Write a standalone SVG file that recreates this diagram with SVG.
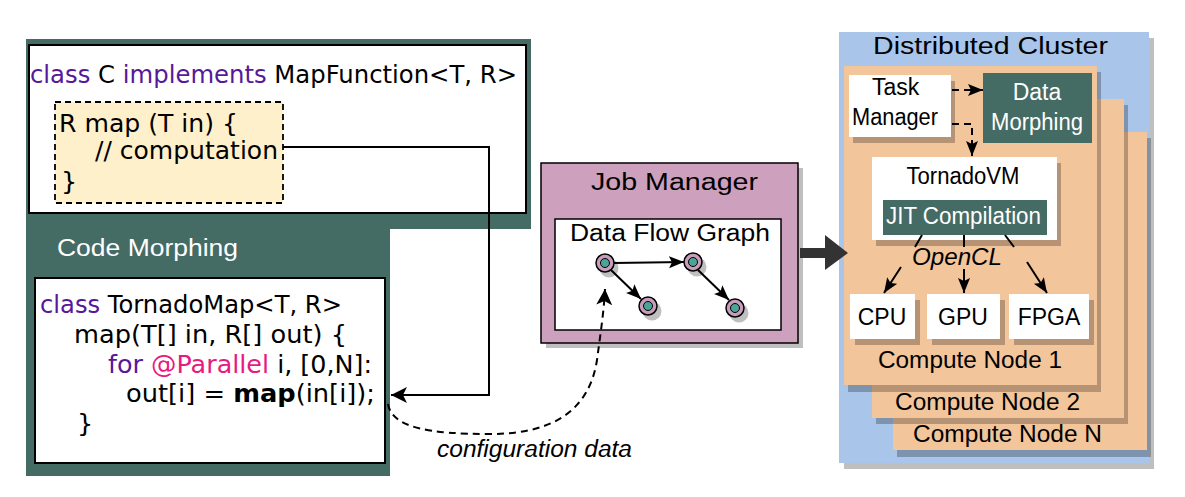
<svg xmlns="http://www.w3.org/2000/svg" width="1185" height="497" viewBox="0 0 1185 497">
<style>
.code{font-family:"DejaVu Sans","Liberation Sans",sans-serif;font-size:25.5px;fill:#000}
.kw{fill:#56199A}
.ann{fill:#E8197F}
.lbl{font-family:"Liberation Sans",Arial,sans-serif;font-size:23px;fill:#000}
.wlbl{font-family:"Liberation Sans",Arial,sans-serif;font-size:23px;fill:#fff}
.it{font-style:italic}
.shadow{fill:#000;opacity:0.25}
.teal{fill:#456B65}
.orange{fill:#F2C59B}
.wbox{fill:#fff}
.conn{fill:none;stroke:#000;stroke-width:2}
.dash{fill:none;stroke:#000;stroke-width:2;stroke-dasharray:7,5}
.gnode{fill:#C89CBA;stroke:#000;stroke-width:1.5}
.ginner{fill:#4BA595;stroke:#000;stroke-width:1}
</style>
<defs>
<marker id="ah" markerUnits="userSpaceOnUse" markerWidth="18" markerHeight="16" refX="16" refY="8" orient="auto">
<path d="M0,0 L16,8 L0,16 L4,8 Z" fill="#000"/>
</marker>
<marker id="ahs" markerUnits="userSpaceOnUse" markerWidth="16" markerHeight="14" refX="15" refY="7" orient="auto">
<path d="M0,1 L15,7 L0,13 L3,7 Z" fill="#000"/>
</marker>
</defs>
<rect width="1185" height="497" fill="#fff"/>

<!-- Left dark panel -->
<g id="code-morphing">
<path class="teal" d="M26,39 H531 V229 H390 V476 H26 Z"/>
<text class="wlbl" x="57" y="256" font-size="25" textLength="181" lengthAdjust="spacingAndGlyphs">Code Morphing</text>
<rect x="35" y="278" width="350" height="185" fill="#fff" stroke="#000" stroke-width="2"/>
<text class="code" x="40" y="313" textLength="302" lengthAdjust="spacingAndGlyphs"><tspan class="kw">class</tspan> TornadoMap&lt;T, R&gt;</text>
<text class="code" x="74" y="343" textLength="273" lengthAdjust="spacingAndGlyphs">map(T[] in, R[] out) {</text>
<text class="code" x="108" y="373" textLength="264" lengthAdjust="spacingAndGlyphs"><tspan class="kw">for</tspan> <tspan class="ann">@Parallel</tspan> i, [0,N]:</text>
<text class="code" x="126" y="402" textLength="249" lengthAdjust="spacingAndGlyphs">out[i] = <tspan font-weight="bold">map</tspan>(in[i]);</text>
<text class="code" x="77" y="432">}</text>
</g>

<g id="map-function">
<rect x="29" y="45" width="497" height="168" fill="#fff" stroke="#000" stroke-width="2"/>
<text class="code" x="30" y="83" textLength="487" lengthAdjust="spacingAndGlyphs"><tspan class="kw">class</tspan> C <tspan class="kw">implements</tspan> MapFunction&lt;T, R&gt;</text>
<rect x="55" y="102" width="228" height="101" fill="#FFF0CC" stroke="#000" stroke-width="1.8" stroke-dasharray="6,4"/>
<text class="code" x="59" y="132" textLength="179" lengthAdjust="spacingAndGlyphs">R map (T in) {</text>
<text class="code" x="95" y="159" textLength="183" lengthAdjust="spacingAndGlyphs">// computation</text>
<text class="code" x="61" y="190">}</text>
</g>

<!-- Job Manager -->
<g id="job-manager">
<rect class="shadow" x="546" y="168" width="257" height="180"/>
<rect x="541" y="163" width="257" height="180" fill="#CDA0BD" stroke="#000" stroke-width="1.5"/>
<text class="lbl" x="591" y="190" font-size="26" textLength="167" lengthAdjust="spacingAndGlyphs">Job Manager</text>
<rect x="555" y="219" width="226" height="111" fill="#fff" stroke="#000" stroke-width="1.5"/>
<text class="lbl" x="570" y="241" font-size="25" textLength="200" lengthAdjust="spacingAndGlyphs">Data Flow Graph</text>
</g>

<g id="dfg-node-1"><circle class="shadow" cx="609" cy="268" r="9.5"/><circle class="gnode" cx="605" cy="263" r="9"/><circle class="ginner" cx="605" cy="263" r="4.5"/></g>
<g id="dfg-node-2"><circle class="shadow" cx="697" cy="267" r="9.5"/><circle class="gnode" cx="693" cy="262" r="9"/><circle class="ginner" cx="693" cy="262" r="4.5"/></g>
<g id="dfg-node-3"><circle class="shadow" cx="652" cy="311" r="9.5"/><circle class="gnode" cx="648" cy="306" r="9"/><circle class="ginner" cx="648" cy="306" r="4.5"/></g>
<g id="dfg-node-4"><circle class="shadow" cx="739" cy="313" r="9.5"/><circle class="gnode" cx="735" cy="308" r="9"/><circle class="ginner" cx="735" cy="308" r="4.5"/></g>

<!-- Distributed cluster -->
<g id="cluster">
<rect class="shadow" x="844" y="38" width="310" height="431"/>
<rect x="839" y="32" width="310" height="431" fill="#A9C5E9"/>
<text class="lbl" x="873" y="54" font-size="26" textLength="235" lengthAdjust="spacingAndGlyphs">Distributed Cluster</text>
</g>

<g id="compute-node-n">
<rect class="shadow" x="897" y="138" width="254" height="319"/>
<rect class="orange" x="893" y="132" width="254" height="318"/>
<text class="lbl" x="913" y="442" font-size="24" textLength="189" lengthAdjust="spacingAndGlyphs">Compute Node N</text>
</g>
<g id="compute-node-2">
<rect class="shadow" x="876" y="105" width="252" height="319"/>
<rect class="orange" x="872" y="99" width="252" height="319"/>
<text class="lbl" x="895" y="410" font-size="24" textLength="185" lengthAdjust="spacingAndGlyphs">Compute Node 2</text>
</g>
<g id="compute-node-1">
<rect class="shadow" x="848" y="72" width="253" height="320"/>
<rect class="orange" x="844" y="66" width="253" height="319"/>
<text class="lbl" x="878" y="368" font-size="24" textLength="184" lengthAdjust="spacingAndGlyphs">Compute Node 1</text>
</g>

<g id="task-manager">
<rect class="shadow" x="853" y="81" width="102" height="62"/>
<rect class="wbox" x="849" y="75" width="102" height="62"/>
<text class="lbl" x="872" y="95" font-size="22">Task</text>
<text class="lbl" x="852" y="125" font-size="22" textLength="86" lengthAdjust="spacingAndGlyphs">Manager</text>
</g>

<g id="data-morphing">
<rect class="teal" x="983" y="73" width="109" height="70"/>
<text class="wlbl" x="1037" y="100" text-anchor="middle">Data</text>
<text class="wlbl" x="1037" y="130" text-anchor="middle" textLength="92" lengthAdjust="spacingAndGlyphs">Morphing</text>
</g>

<g id="tornadovm">
<rect class="shadow" x="876" y="163" width="185" height="83"/>
<rect class="wbox" x="872" y="157" width="185" height="83"/>
<text class="lbl" x="963" y="184" font-size="22" text-anchor="middle" textLength="113" lengthAdjust="spacingAndGlyphs">TornadoVM</text>
<rect class="teal" x="883" y="200" width="164" height="35"/>
<text class="wlbl" x="886" y="224" textLength="155" lengthAdjust="spacingAndGlyphs">JIT Compilation</text>
</g>

<text class="lbl it" x="912" y="265" font-size="24" textLength="90" lengthAdjust="spacingAndGlyphs">OpenCL</text>

<g id="cpu">
<rect class="shadow" x="855" y="300" width="65" height="45"/>
<rect class="wbox" x="850" y="294" width="65" height="45"/>
<text class="lbl" x="882" y="325" font-size="22" text-anchor="middle">CPU</text>
</g>
<g id="gpu">
<rect class="shadow" x="932" y="300" width="73" height="45"/>
<rect class="wbox" x="927" y="294" width="73" height="45"/>
<text class="lbl" x="963" y="325" font-size="22" text-anchor="middle">GPU</text>
</g>
<g id="fpga">
<rect class="shadow" x="1014" y="300" width="80" height="45"/>
<rect class="wbox" x="1009" y="294" width="80" height="45"/>
<text class="lbl" x="1049" y="325" font-size="22" text-anchor="middle">FPGA</text>
</g>

<text class="lbl it" x="437" y="457" font-size="24" textLength="195" lengthAdjust="spacingAndGlyphs">configuration data</text>

<!-- Connectors -->
<g id="connectors">
<path class="conn" d="M283,147 H489 V395 H391" marker-end="url(#ah)"/>
<path class="dash" d="M388,404 C392,428 430,434 490,434 C560,434 590,405 597,360 C601,330 604,310 605,289" marker-end="url(#ah)"/>
<line class="conn" x1="614" y1="263" x2="684" y2="262" stroke-width="1.8" marker-end="url(#ahs)"/>
<line class="conn" x1="611" y1="270" x2="641" y2="299" stroke-width="1.8" marker-end="url(#ahs)"/>
<line class="conn" x1="698" y1="270" x2="729" y2="300" stroke-width="1.8" marker-end="url(#ahs)"/>
<polygon points="800,248 825,248 825,235 848,253 825,270 825,258 800,258" fill="#333"/>
<path class="dash" d="M952,90 H983" marker-end="url(#ahs)"/>
<path class="dash" d="M952,124 H972 V156" marker-end="url(#ahs)"/>
<line class="conn" x1="922" y1="235" x2="915" y2="247" stroke-width="1.8"/>
<line class="conn" x1="901" y1="267" x2="884" y2="293" stroke-width="1.8" marker-end="url(#ahs)"/>
<line class="conn" x1="964" y1="235" x2="964" y2="247" stroke-width="1.8"/>
<line class="conn" x1="964" y1="269" x2="964" y2="293" stroke-width="1.8" marker-end="url(#ahs)"/>
<line class="conn" x1="1005" y1="235" x2="1014" y2="247" stroke-width="1.8"/>
<line class="conn" x1="1027" y1="262" x2="1047" y2="293" stroke-width="1.8" marker-end="url(#ahs)"/>
</g>
</svg>
